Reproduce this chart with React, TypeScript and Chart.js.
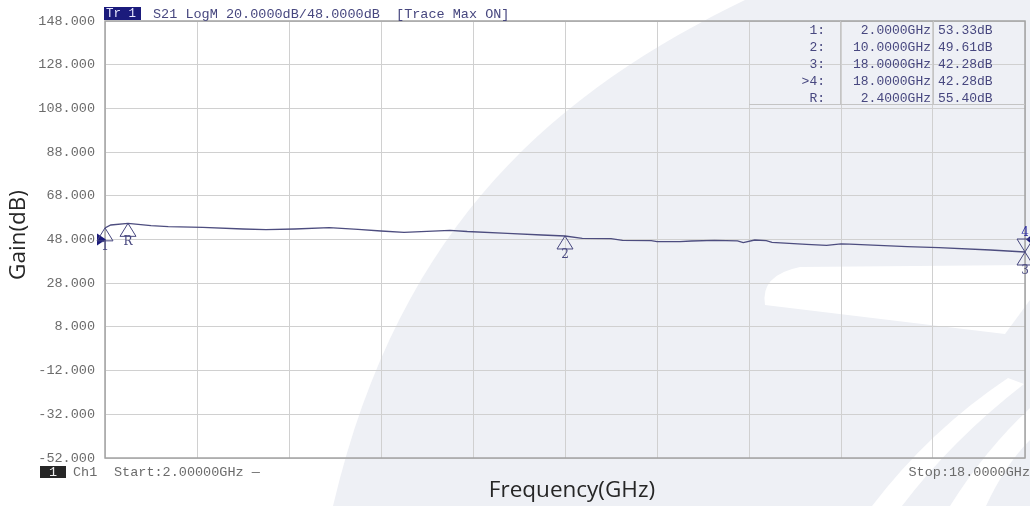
import { useEffect, useRef } from "react";
import { Chart, registerables } from "chart.js";

Chart.register(...registerables);

// Swept S21 trace, 2–18 GHz
const freqGHz = [
  2.0, 2.1, 2.4, 2.8, 3.1, 3.7, 4.4, 4.8, 5.3, 5.9, 6.4, 6.8, 7.2, 7.5, 8.0, 8.3,
  9.0, 9.6, 10.0, 10.3, 10.8, 11.0, 11.5, 11.6, 12.0, 12.2, 12.6, 13.0, 13.1, 13.3,
  13.5, 13.6, 14.2, 14.55, 14.8, 14.95, 15.95, 16.5, 17.4, 18.0,
];
const gainDb = [
  53.33, 54.64, 55.4, 54.32, 53.86, 53.58, 52.8, 52.5, 52.8, 53.4, 52.67, 51.9, 51.3, 51.57, 52.2, 51.66,
  50.84, 50.06, 49.61, 48.55, 48.37, 47.63, 47.45, 47.0, 47.0, 47.31, 47.63, 47.4, 46.54, 47.77,
  47.45, 46.7, 45.76, 45.3, 46.04, 45.9, 44.7, 44.25, 43.2, 42.28,
];

// Markers
const markerNames = ["1", "2", "3", "4", "R"];
const markerFreqs = [2.0, 10.0, 18.0, 18.0, 2.4];
const markerGains = [53.33, 49.61, 42.28, 42.28, 55.4];
const activeMarker = "4";
const downMarkers = ["4"];

// Axis settings
const startGHz = 2.0;
const stopGHz = 18.0;
const xDivisions = 10;
const scaleDbPerDiv = 20;
const refLevelDb = 48;
const yMinDb = -52;
const yMaxDb = 148;

const monoFont = '"Liberation Mono", "DejaVu Sans Mono", monospace';
const navy = "#47477f";
const labelGray = "#6b6b6b";

// Faint logo swoosh behind the graticule
function drawWatermark(ctx: CanvasRenderingContext2D, w: number, h: number) {
  ctx.save();
  ctx.fillStyle = "#ffffff";
  ctx.fillRect(0, 0, w, h);
  ctx.fillStyle = "rgb(238,240,245)";
  ctx.beginPath();
  ctx.moveTo(745, 0);
  ctx.bezierCurveTo(560, 90, 400, 220, 333, h);
  ctx.lineTo(w, h);
  ctx.lineTo(w, 0);
  ctx.closePath();
  ctx.fill();

  ctx.fillStyle = "#ffffff";
  ctx.beginPath();
  ctx.moveTo(w, 265);
  ctx.lineTo(800, 267);
  ctx.quadraticCurveTo(760, 275, 765, 305);
  ctx.lineTo(1005, 334);
  ctx.lineTo(w, 300);
  ctx.closePath();
  ctx.fill();

  ctx.beginPath();
  ctx.moveTo(1008, 378);
  ctx.quadraticCurveTo(930, 430, 872, h);
  ctx.lineTo(902, h);
  ctx.quadraticCurveTo(952, 440, 1024, 384);
  ctx.closePath();
  ctx.fill();

  ctx.beginPath();
  ctx.moveTo(w, 408);
  ctx.quadraticCurveTo(985, 450, 950, h);
  ctx.lineTo(986, h);
  ctx.quadraticCurveTo(1005, 465, w, 440);
  ctx.closePath();
  ctx.fill();
  ctx.restore();
}

const backgroundPlugin = {
  id: "vnaBackground",
  beforeDraw(chart: Chart) {
    drawWatermark(chart.ctx, chart.width, chart.height);
  },
  beforeDatasetsDraw(chart: Chart) {
    const { ctx, chartArea: a } = chart;
    ctx.save();
    ctx.strokeStyle = "#a3a3a3";
    ctx.lineWidth = 1.5;
    ctx.strokeRect(a.left, a.top, a.right - a.left, a.bottom - a.top);
    ctx.restore();
  },
};

function triangle(ctx: CanvasRenderingContext2D, x: number, y: number, dir: number) {
  ctx.beginPath();
  ctx.moveTo(x, y);
  ctx.lineTo(x - 8, y + 13 * dir);
  ctx.lineTo(x + 8, y + 13 * dir);
  ctx.closePath();
  ctx.stroke();
}

const overlayPlugin = {
  id: "vnaOverlay",
  afterDraw(chart: Chart) {
    const { ctx, chartArea: a } = chart;
    const xs = chart.scales.x;
    const ys = chart.scales.y;
    ctx.save();

    // Trace header
    ctx.fillStyle = "#1b1b7c";
    ctx.fillRect(a.left - 1, 7, 37, 13);
    ctx.font = `12.5px ${monoFont}`;
    ctx.textBaseline = "middle";
    ctx.textAlign = "left";
    ctx.fillStyle = "#e8e8ff";
    ctx.fillText("Tr 1", a.left + 1, 14);
    ctx.font = `13.5px ${monoFont}`;
    ctx.fillStyle = navy;
    ctx.fillText(
      `S21 LogM ${scaleDbPerDiv.toFixed(4)}dB/${refLevelDb.toFixed(4)}dB  [Trace Max ON]`,
      a.left + 48,
      14
    );

    // Marker table
    const tableLeft = xs.getPixelForValue(startGHz + ((stopGHz - startGHz) / xDivisions) * 7);
    const tableBottom = a.top + 83;
    ctx.strokeStyle = "#c4c4c4";
    ctx.lineWidth = 1;
    ctx.beginPath();
    ctx.moveTo(tableLeft, tableBottom + 0.5);
    ctx.lineTo(a.right, tableBottom + 0.5);
    ctx.moveTo(a.right - 184.5, a.top);
    ctx.lineTo(a.right - 184.5, tableBottom);
    ctx.moveTo(a.right - 91.5, a.top);
    ctx.lineTo(a.right - 91.5, tableBottom);
    ctx.stroke();

    ctx.font = `13px ${monoFont}`;
    ctx.fillStyle = navy;
    markerNames.forEach((name, i) => {
      const y = a.top + 9.5 + 17 * i;
      ctx.textAlign = "right";
      ctx.fillText(`${name === activeMarker ? ">" : ""}${name}:`, a.right - 200, y);
      ctx.fillText(`${markerFreqs[i].toFixed(4)}GHz`, a.right - 94, y);
      ctx.textAlign = "left";
      ctx.fillText(`${markerGains[i].toFixed(2)}dB`, a.right - 87, y);
    });

    // Reference level arrows
    const refY = ys.getPixelForValue(refLevelDb);
    ctx.fillStyle = "#1b1b7c";
    ctx.beginPath();
    ctx.moveTo(a.left - 8, refY - 6);
    ctx.lineTo(a.left + 1, refY);
    ctx.lineTo(a.left - 8, refY + 6);
    ctx.closePath();
    ctx.fill();
    ctx.beginPath();
    ctx.moveTo(a.right + 6, refY - 4);
    ctx.lineTo(a.right + 1, refY);
    ctx.lineTo(a.right + 6, refY + 4);
    ctx.closePath();
    ctx.fill();

    // Marker symbols
    ctx.strokeStyle = navy;
    ctx.lineWidth = 1;
    ctx.font = `12px "DejaVu Serif", serif`;
    ctx.textAlign = "center";
    markerNames.forEach((name, i) => {
      const x = xs.getPixelForValue(markerFreqs[i]);
      const y = ys.getPixelForValue(markerGains[i]);
      const dir = downMarkers.includes(name) ? -1 : 1;
      triangle(ctx, x, y, dir);
      ctx.fillStyle = name === activeMarker ? "#2a2aa0" : navy;
      ctx.fillText(name, x, y + dir * 19);
    });

    // Channel / sweep annotations
    ctx.font = `13.5px ${monoFont}`;
    ctx.fillStyle = "#262626";
    ctx.fillRect(40, 466, 26, 12);
    ctx.fillStyle = "#eeeeee";
    ctx.textAlign = "center";
    ctx.fillText("1", 53, 472);
    ctx.fillStyle = labelGray;
    ctx.textAlign = "left";
    ctx.fillText("Ch1", 73, 472);
    ctx.fillText(`Start:${startGHz.toFixed(5)}GHz \u2014`, 114, 472);
    ctx.textAlign = "right";
    ctx.fillText(`Stop:${stopGHz.toFixed(4)}GHz`, chart.width, 472);

    // Axis titles
    ctx.fillStyle = "#262626";
    ctx.font = `22.5px "Open Sans", sans-serif`;
    ctx.textAlign = "center";
    ctx.fillText("Frequency(GHz)", (a.left + a.right) / 2 + 7, 491);
    ctx.translate(19, 235);
    ctx.rotate(-Math.PI / 2);
    ctx.fillText("Gain(dB)", 0, 0);
    ctx.restore();
  },
};

export default function App() {
  const canvasRef = useRef<HTMLCanvasElement | null>(null);

  useEffect(() => {
    if (!canvasRef.current) return;
    const chart = new Chart(canvasRef.current, {
      type: "line",
      data: {
        datasets: [
          {
            label: "S21",
            data: freqGHz.map((f, i) => ({ x: f, y: gainDb[i] })),
            borderColor: "#4d4d7f",
            borderWidth: 1.3,
            pointRadius: 0,
            tension: 0,
            fill: false,
          },
        ],
      },
      options: {
        responsive: false,
        animation: false,
        layout: { padding: { top: 21, right: 5, left: 0, bottom: 0 } },
        plugins: { legend: { display: false }, tooltip: { enabled: false } },
        scales: {
          x: {
            type: "linear",
            min: startGHz,
            max: stopGHz,
            ticks: { display: false, stepSize: (stopGHz - startGHz) / xDivisions },
            grid: { color: "#d0d0d0", lineWidth: 1, drawTicks: false },
            border: { display: false },
            afterFit: (scale: any) => {
              scale.height = 48;
            },
          },
          y: {
            type: "linear",
            min: yMinDb,
            max: yMaxDb,
            ticks: {
              stepSize: scaleDbPerDiv,
              padding: 10,
              color: labelGray,
              font: { family: monoFont, size: 13.5 },
              callback: (v: any) => Number(v).toFixed(3),
            },
            grid: { color: "#d0d0d0", lineWidth: 1, drawTicks: false },
            border: { display: false },
            afterFit: (scale: any) => {
              scale.width = 105;
            },
          },
        },
      },
      plugins: [backgroundPlugin, overlayPlugin],
    });
    return () => chart.destroy();
  }, []);

  return (
    <div style={{ position: "fixed", left: 0, top: 0, width: 1030, height: 506, background: "#fff" }}>
      <canvas ref={canvasRef} width={1030} height={506} style={{ display: "block" }} />
    </div>
  );
}
